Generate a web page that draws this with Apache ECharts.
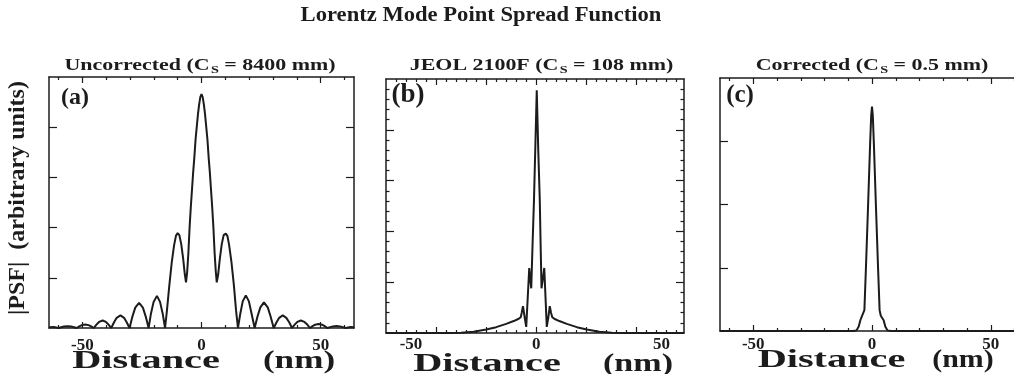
<!DOCTYPE html>
<html>
<head>
<meta charset="utf-8">
<title>Lorentz Mode Point Spread Function</title>
<script src="https://cdn.jsdelivr.net/npm/echarts@6/dist/echarts.min.js"></script>
<style>
  html, body { margin: 0; padding: 0; background: #fff; }
  #chart { width: 1014px; height: 374px; }
</style>
</head>
<body>
<div id="chart"></div>
<script>
// (a) uncorrected, Cs = 8400 mm
const distA = [-64, -62, -60, -58.9, -57.7, -56.2, -54.7, -53.5, -52.4, -51.3,
  -50.2, -48.8, -47.4, -46.3, -45.2, -44.1, -43.0, -41.5, -40.1, -39.0,
  -37.9, -36.7, -35.6, -34.0, -32.5, -31.4, -30.2, -29.0, -27.8, -26.2,
  -24.6, -23.4, -22.2, -21.2, -20.1, -18.7, -17.4, -16.3, -15.3, -14.5,
  -13.5, -12.5, -11.5, -10.7, -10.0, -9.3, -8.5, -7.7, -7.0, -6.5,
  -6.0, -5.5, -5.0, -4.5, -4.0, -3.5, -3.0, -2.5, -2.0, -1.5,
  -1.0, -0.5, 0,
  0.5, 1.0, 1.5, 2.0, 2.5, 3.0, 3.5, 4.0, 4.5, 5.0,
  5.5, 6.0, 6.4, 7.0, 7.7, 8.5, 9.3, 10.2, 10.9, 11.6,
  12.6, 13.6, 14.5, 15.3, 16.3, 17.3, 18.6, 19.9, 21.0, 22.3,
  23.5, 24.7, 26.2, 27.8, 29.0, 30.3, 31.5, 32.6, 34.1, 35.6,
  36.8, 38.0, 39.1, 40.2, 41.7, 43.2, 44.4, 45.5, 46.6, 47.7,
  49.1, 50.6, 51.7, 52.8, 54.0, 55.1, 56.6, 58.1, 59.3, 60.5,
  62.5, 64];
const psfA = [0.015, 0.02, 0, 0.016, 0.028, 0.035, 0.028, 0.016, 0, 0.032,
  0.057, 0.07, 0.057, 0.032, 0, 0.068, 0.121, 0.15, 0.121, 0.068,
  0, 0.114, 0.202, 0.25, 0.202, 0.114, 0, 0.227, 0.405, 0.5,
  0.405, 0.227, 0, 0.29, 0.52, 0.64, 0.52, 0.29, 0, 0.35,
  0.85, 1.3, 1.65, 1.84, 1.89, 1.85, 1.67, 1.38, 1.07, 0.91,
  1.12, 1.5, 2.0, 2.4, 2.75, 3.1, 3.4, 3.75, 4.0, 4.25,
  4.45, 4.6, 4.66,
  4.6, 4.45, 4.25, 4.0, 3.75, 3.4, 3.1, 2.75, 2.4, 2.0,
  1.5, 1.12, 0.91, 1.07, 1.38, 1.67, 1.85, 1.88, 1.83, 1.65,
  1.3, 0.85, 0.35, 0, 0.29, 0.53, 0.65, 0.53, 0.29, 0,
  0.23, 0.41, 0.51, 0.41, 0.23, 0, 0.114, 0.202, 0.25, 0.202,
  0.114, 0, 0.068, 0.121, 0.15, 0.121, 0.068, 0, 0.036, 0.065,
  0.08, 0.065, 0.036, 0, 0.018, 0.032, 0.04, 0.032, 0.018, 0,
  0.02, 0.015];

// (b) JEOL 2100F, Cs = 108 mm
const distB = [-60, -35, -30, -25, -20, -16, -12, -9, -7, -6.2,
  -5.8, -5.3, -4.6, -4.0, -3.4, -2.8, -2.4, -2.0, -1.5, -0.9,
  -0.4, 0.2, 0.8, 1.4, 1.8, 2.1, 2.6, 3.2, 3.7, 4.2,
  4.8, 5.4, 5.9, 6.4, 7.2, 9.2, 12.2, 16.2, 20.2, 25.2,
  30.2, 35.2, 59];
const psfB = [0, 0, 0.005, 0.025, 0.07, 0.115, 0.18, 0.235, 0.28, 0.31,
  0.4, 0.53, 0.3, 0.12, 0.7, 1.28, 1.05, 0.88, 1.7, 2.63,
  3.6, 4.78, 3.6, 2.63, 1.6, 0.88, 1.05, 1.28, 0.7, 0.12,
  0.3, 0.53, 0.4, 0.31, 0.28, 0.235, 0.18, 0.115, 0.07, 0.025,
  0.005, 0, 0];

// (c) corrected, Cs = 0.5 mm
const distC = [-64, -8, -6.5, -5.6, -4.9, -4.4, -3.7, -3.2, -2.6, -1.7,
  -0.8, -0.35, 0, 0.35, 0.8, 1.7, 2.6, 3.2, 3.7, 4.4,
  4.9, 5.6, 6.5, 8, 64];
const psfC = [0, 0, 0.01, 0.07, 0.17, 0.22, 0.24, 0.33, 0.95, 1.93,
  2.95, 3.4, 3.55, 3.4, 2.95, 1.93, 0.95, 0.33, 0.24, 0.22,
  0.17, 0.07, 0.01, 0, 0];

// ticks and tick labels
const xLabels = [-50, 0, 50];
const xMajorAC = [-50, 0, 50];
const xMinorAC = [-60, -40, -30, -20, -10, 10, 20, 30, 40, 60];
const xMajorB = [-40, -20, 0, 20, 40];
const xMinorB = [-56, -52, -48, -44, -36, -32, -28, -24, -16, -12, -8, -4,
  4, 8, 12, 16, 24, 28, 32, 36, 44, 48, 52, 56];
const yMajorAB = [1, 2, 3, 4];
const yMajorC = [1, 2, 3];
const yMinorB = [0.2, 0.4, 0.6, 0.8, 1.2, 1.4, 1.6, 1.8, 2.2, 2.4, 2.6, 2.8,
  3.2, 3.4, 3.6, 3.8, 4.2, 4.4, 4.6, 4.8];

const ink = '#1c1c1c';
const serif = '"Liberation Serif", "Times New Roman", serif';

const panels = [
  { rect: { left: 49, top: 77, width: 305, height: 251 }, xMin: -64, xMax: 64, yMax: 5,
    dist: distA, psf: psfA, xMajor: xMajorAC, xMinor: xMinorAC, yMajor: yMajorAB, yMinor: [], margin: 9 },
  { rect: { left: 386, top: 79, width: 298, height: 254 }, xMin: -60, xMax: 59, yMax: 5,
    dist: distB, psf: psfB, xMajor: xMajorB, xMinor: xMinorB, yMajor: yMajorAB, yMinor: yMinorB, margin: 3 },
  { rect: { left: 720, top: 78, width: 304, height: 253 }, xMin: -64, xMax: 64, yMax: 4,
    dist: distC, psf: psfC, xMajor: xMajorAC, xMinor: xMinorAC, yMajor: yMajorC, yMinor: [], margin: 5 }
];

const grids = [], xAxes = [], yAxes = [], series = [];

panels.forEach((p, i) => {
  // main grid + an overlay grid carrying the minor ticks
  [0, 1].forEach(layer => {
    const g = grids.length;
    grids.push(Object.assign({ outerBoundsMode: 'none', containLabel: false }, p.rect));
    const isMain = layer === 0;
    ['bottom', 'top'].forEach(pos => {
      const ticks = isMain ? p.xMajor : p.xMinor;
      xAxes.push({
        gridIndex: g, type: 'value', position: pos, min: p.xMin, max: p.xMax,
        axisLine: { show: isMain, onZero: false, lineStyle: { color: ink, width: 1.5 } },
        axisTick: { show: ticks.length > 0, inside: true, length: isMain ? 6 : 3,
          customValues: ticks, lineStyle: { color: ink, width: 1.2 } },
        axisLabel: { show: isMain && pos === 'bottom', customValues: xLabels, margin: p.margin,
          color: ink, fontFamily: serif, fontWeight: 'bold', fontSize: 17 },
        splitLine: { show: false }
      });
    });
    ['left', 'right'].forEach(pos => {
      const ticks = isMain ? p.yMajor : p.yMinor;
      yAxes.push({
        gridIndex: g, type: 'value', position: pos, min: 0, max: p.yMax,
        axisLine: { show: isMain, onZero: false, lineStyle: { color: ink, width: 1.5 } },
        axisTick: { show: ticks.length > 0, inside: true, length: isMain ? 8 : 3.5,
          customValues: ticks, lineStyle: { color: ink, width: 1.2 } },
        axisLabel: { show: false },
        splitLine: { show: false }
      });
    });
  });
  const ax = i * 4; // bottom x / left y of the main grid
  series.push({
    type: 'line', xAxisIndex: ax, yAxisIndex: ax,
    data: p.dist.map((d, k) => [d, p.psf[k]]),
    showSymbol: false, smooth: false,
    lineStyle: { color: ink, width: 2 },
    silent: true
  });
});

function txt(text, x, y, size, scaleX, extra) {
  return Object.assign({
    type: 'text', x: x, y: y, scaleX: scaleX || 1,
    style: { text: text, fill: ink, fontFamily: serif, fontWeight: 'bold', fontSize: size,
      align: 'center', verticalAlign: 'middle' }
  }, extra || {});
}

function subTitle(before, after, x) {
  const t = txt('{m|' + before + '}{s|S}{m|' + after + '}', x, 66, 17, 1.29);
  t.style.rich = {
    m: { fontFamily: serif, fontWeight: 'bold', fontSize: 17, fill: ink },
    s: { fontFamily: serif, fontWeight: 'bold', fontSize: 11, fill: ink, padding: [8, 0, 0, 1] }
  };
  return t;
}

const graphics = [
  txt('Lorentz Mode Point Spread Function', 481, 15.5, 20, 1.13),
  subTitle('Uncorrected (C', ' = 8400 mm)', 200),
  subTitle('JEOL 2100F (C', ' = 108 mm)', 541.5),
  subTitle('Corrected (C', ' = 0.5 mm)', 872),
  txt('(a)', 75, 97.5, 24),
  txt('(b)', 408, 95, 27),
  txt('(c)', 740, 96, 25),
  // x axis names: the word and the unit as in the figure
  txt('Distance', 146, 361, 26, 1.55),
  txt('(nm)', 299, 361, 26, 1.35),
  txt('Distance', 487, 364, 26, 1.55),
  txt('(nm)', 638, 364, 26, 1.31),
  txt('Distance', 831.5, 360, 26, 1.55),
  txt('(nm)', 963, 360, 26, 1.15),
  txt('|PSF|  (arbitrary units)', 17.5, 198, 24, 1, { rotation: Math.PI / 2 })
];

const chart = echarts.init(document.getElementById('chart'), null, { renderer: 'canvas' });
chart.setOption({
  animation: false,
  backgroundColor: '#fff',
  grid: grids,
  xAxis: xAxes,
  yAxis: yAxes,
  series: series,
  graphic: { elements: graphics }
});
</script>
</body>
</html>
